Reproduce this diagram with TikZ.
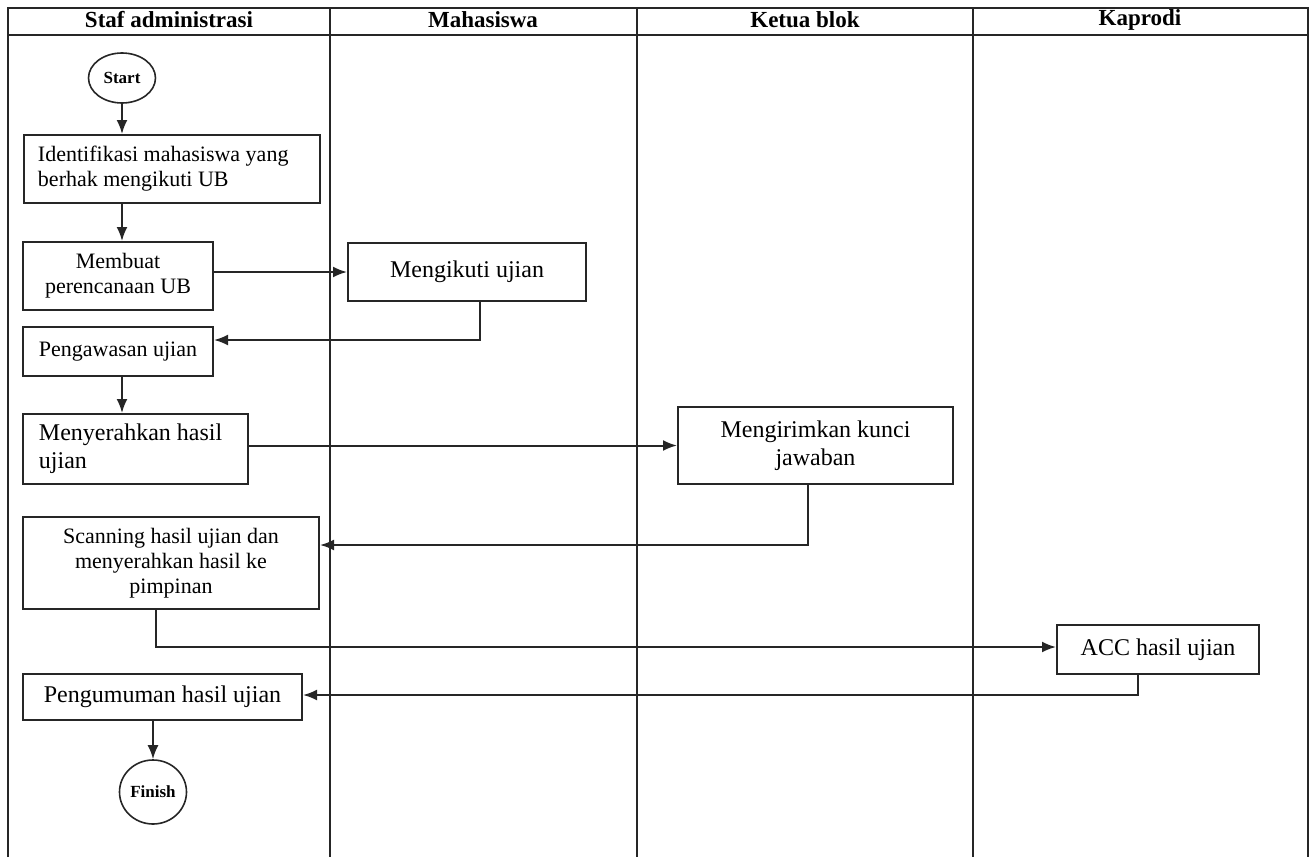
\documentclass[tikz,border=0pt]{standalone}
\usepackage{fontspec}
\setmainfont{Liberation Serif}
\usepackage{tikz}
\usetikzlibrary{arrows,arrows.meta,shapes}

\begin{document}
\begin{tikzpicture}[x=0.5pt,y=-0.5pt,>={Latex[length=7pt,width=5.5pt]},auto]

		\tikzstyle{lane}=[draw=black!85,line width=0.8pt]
		\tikzstyle{judul}=[anchor=base,font=\fontsize{11.5}{13}\selectfont\bfseries]
		\tikzstyle{proses}=[rectangle,draw=black!85,line width=1pt,font=\fontsize{11}{12.5}\selectfont,align=center,inner sep=2pt]
		\tikzstyle{besar}=[font=\fontsize{12}{14}\selectfont]
		\tikzstyle{terminal}=[ellipse,draw=black!85,line width=0.8pt,inner sep=0pt,font=\fontsize{8.5}{10}\selectfont\bfseries]
		\tikzstyle{alir}=[->,draw=black!85,line width=1pt]

		\useasboundingbox (0,0) rectangle (1312,857);
		\draw [lane] (8,857) -- (8,8) -- (1308,8) -- (1308,857);
		\draw [lane] (8,35) -- (1308,35);
		\foreach \x in {330,637,973}
			\draw [lane] (\x,8) -- (\x,857);

		\node [judul] (h1) at (169,27) {Staf administrasi};
		\node [judul] (h2) at (483,27) {Mahasiswa};
		\node [judul] (h3) at (805,27) {Ketua blok};
		\node [judul] (h4) at (1140,25) {Kaprodi};

		\node [terminal,minimum width=33.5pt,minimum height=25pt] (start) at (122,78) {Start};
		\node [proses,minimum width=148pt,minimum height=34pt,align=flush left,text width=134pt,inner xsep=7pt] (ident) at (172,169) {Identifikasi mahasiswa yang\\berhak mengikuti UB};
		\node [proses,minimum width=95pt,minimum height=34pt] (buat) at (118,276) {Membuat\\perencanaan UB};
		\node [proses,besar,minimum width=119pt,minimum height=29pt] (ikut) at (467,272) {Mengikuti ujian};
		\node [proses,minimum width=95pt,minimum height=24.5pt] (awas) at (118,351.5) {Pengawasan ujian};
		\node [proses,besar,minimum width=112.5pt,minimum height=35pt,align=flush left,text width=96.5pt,inner xsep=8pt] (serah) at (135.5,449) {Menyerahkan hasil\\ujian};
		\node [proses,besar,minimum width=137.5pt,minimum height=38.5pt] (kirim) at (815.5,445.5) {Mengirimkan kunci\\jawaban};
		\node [proses,minimum width=148pt,minimum height=46pt] (scan) at (171,563) {Scanning hasil ujian dan\\menyerahkan hasil ke\\pimpinan};
		\node [proses,besar,minimum width=101pt,minimum height=24.5pt] (acc) at (1158,649.5) {ACC hasil ujian};
		\node [proses,besar,minimum width=139.5pt,minimum height=23pt] (umum) at (162.5,697) {Pengumuman hasil ujian};
		\node [terminal,minimum width=33.5pt,minimum height=32pt] (finish) at (153,792) {Finish};

		\coordinate (k1) at (480,340);
		\coordinate (k2) at (808,545);
		\coordinate (k3) at (156,647);
		\coordinate (k4) at (1138,695);

		\draw [alir] (start) -- (start |- ident.north);
		\draw [alir] (start |- ident.south) -- (start |- buat.north);
		\draw [alir] (ikut.west -| buat.east) -- (ikut.west);
		\draw [alir] (k1 |- ikut.south) |- (awas.east |- k1);
		\draw [alir] (start |- awas.south) -- (start |- serah.north);
		\draw [alir] (kirim.west -| serah.east) -- (kirim.west);
		\draw [alir] (k2 |- kirim.south) |- (scan.east |- k2);
		\draw [alir] (k3 |- scan.south) |- (acc.west |- k3);
		\draw [alir] (k4 |- acc.south) |- (umum.east |- k4);
		\draw [alir] (finish |- umum.south) -- (finish);
\end{tikzpicture}
\end{document}
